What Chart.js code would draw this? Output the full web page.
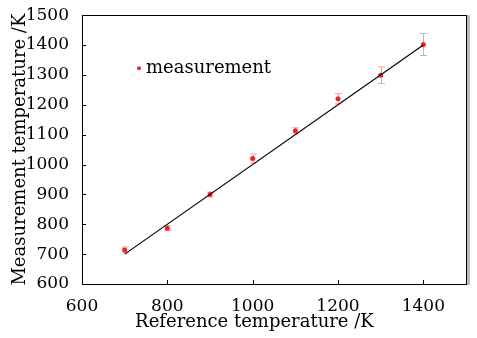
<!DOCTYPE html>
<html>
<head>
<meta charset="utf-8">
<script src="https://cdn.jsdelivr.net/npm/chart.js@4"></script>
<style>
  html,body{margin:0;padding:0;background:#fff;}
  #wrap{width:477px;height:338px;}
</style>
</head>
<body>
<div id="wrap"><canvas id="c" width="477" height="338"></canvas></div>
<script>
const refTemp  = [700, 800, 900, 1000, 1100, 1200, 1300, 1400];
const measTemp = [714, 787, 900, 1020, 1113, 1220, 1299, 1402];
const measErr  = [10, 8, 8, 15, 10, 17, 28, 37];
const fitX = [700, 1400];
const fitY = [700, 1400];
const xTicks = [600, 800, 1000, 1200, 1400];
const yTicks = [600, 700, 800, 900, 1000, 1100, 1200, 1300, 1400, 1500];
const xTitle = 'Reference temperature /K';
const yTitle = 'Measurement temperature /K';

const FONT = 'DejaVu Serif';

// error bars, inner ticks, frame, x title and legend
const extras = {
  id: 'extras',
  beforeDatasetsDraw(chart){
    const {ctx, scales:{x, y}} = chart;
    ctx.save();
    ctx.strokeStyle = '#ff9a9a'; ctx.lineWidth = 1;
    refTemp.forEach((v,i)=>{
      const px = Math.round(x.getPixelForValue(v))+0.5;
      const t = y.getPixelForValue(measTemp[i]+measErr[i]);
      const b = y.getPixelForValue(measTemp[i]-measErr[i]);
      ctx.beginPath();
      ctx.moveTo(px,t); ctx.lineTo(px,b);
      ctx.moveTo(px-3.5,t); ctx.lineTo(px+3.5,t);
      ctx.moveTo(px-3.5,b); ctx.lineTo(px+3.5,b);
      ctx.stroke();
    });
    ctx.restore();
  },
  afterDraw(chart){
    const {ctx, chartArea:a, scales:{x, y}} = chart;
    ctx.save();
    ctx.strokeStyle = '#000'; ctx.lineWidth = 1;
    ctx.strokeRect(Math.round(a.left)+0.5, Math.round(a.top)+0.5, Math.round(a.right-a.left), Math.round(a.bottom-a.top));
    ctx.beginPath();
    yTicks.forEach(v=>{ const py = Math.round(y.getPixelForValue(v))+0.5; ctx.moveTo(a.left, py); ctx.lineTo(a.left+4, py); });
    xTicks.forEach(v=>{ const px = Math.round(x.getPixelForValue(v))+0.5; ctx.moveTo(px, a.bottom); ctx.lineTo(px, a.bottom-4); });
    ctx.stroke();
    // shadow on right edge
    ctx.strokeStyle = '#bbb'; ctx.lineWidth = 3;
    ctx.beginPath(); ctx.moveTo(a.right+2.5, a.top); ctx.lineTo(a.right+2.5, a.bottom+1); ctx.stroke();
    // x axis title (sits left of centre in the original)
    ctx.fillStyle = '#000';
    ctx.font = '18px "' + FONT + '"';
    ctx.textAlign = 'center'; ctx.textBaseline = 'middle';
    ctx.fillText(xTitle, a.left + (a.right - a.left) * 0.449, a.bottom + 38);
    // legend
    const lx = a.left + 57, ly = a.top + 53;
    ctx.fillStyle = '#e8262a';
    ctx.beginPath(); ctx.arc(lx, ly, 2, 0, Math.PI*2); ctx.fill();
    ctx.fillStyle = '#000';
    ctx.textAlign = 'left';
    ctx.fillText('measurement', lx + 7, ly);
    ctx.restore();
  }
};

const tickFont = {family: FONT, size: 17};
const titleFont = {family: FONT, size: 18};

new Chart(document.getElementById('c'), {
  type: 'scatter',
  data: {
    datasets: [
      {
        label: 'fit',
        type: 'line',
        data: fitX.map((v,i)=>({x:v, y:fitY[i]})),
        borderColor: '#000', borderWidth: 1.2, pointRadius: 0, fill: false
      },
      {
        label: 'measurement',
        data: refTemp.map((v,i)=>({x:v, y:measTemp[i]})),
        backgroundColor: '#e8262a', borderColor: '#e8262a', pointRadius: 2.5, borderWidth: 0
      }
    ]
  },
  options: {
    responsive: false,
    animation: false,
    layout: {padding: {top: 13, right: 11, left: 0, bottom: 0}},
    plugins: {legend: {display: false}, tooltip: {enabled: false}},
    scales: {
      x: {
        type: 'linear', min: 600, max: 1500,
        afterBuildTicks: s => { s.ticks = xTicks.map(v=>({value:v})); },
        afterFit: s => { s.height = 54; },
        grid: {display: false}, border: {display: false},
        ticks: {color: '#000', font: tickFont, padding: 4, callback: v => String(v)},
        title: {display: false}
      },
      y: {
        type: 'linear', min: 600, max: 1500,
        afterBuildTicks: s => { s.ticks = yTicks.map(v=>({value:v})); },
        afterFit: s => { s.width = 82; },
        grid: {display: false}, border: {display: false},
        ticks: {color: '#000', font: tickFont, padding: 5, callback: v => String(v)},
        title: {display: true, text: yTitle, color: '#000', font: titleFont, padding: {top: 10, bottom: 0}}
      }
    }
  },
  plugins: [extras]
});
</script>
</body>
</html>
